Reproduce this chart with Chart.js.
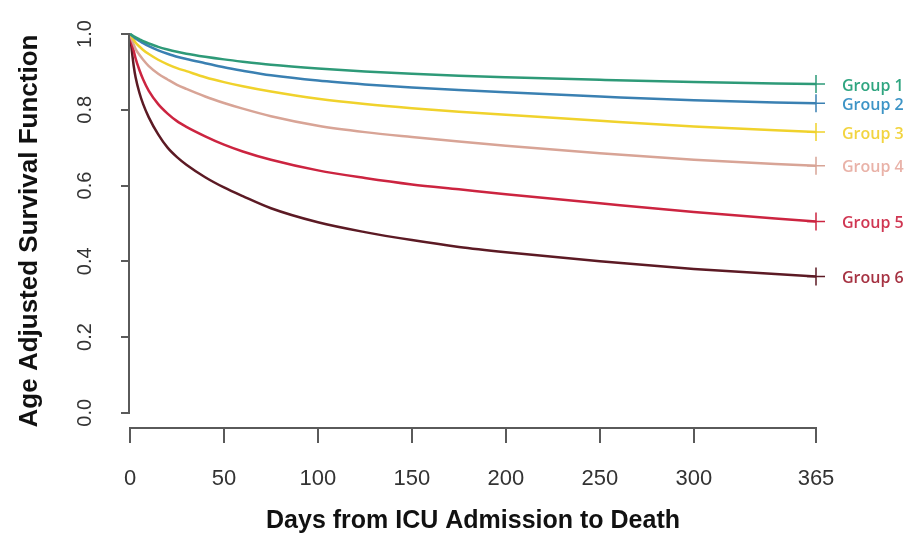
<!DOCTYPE html>
<html>
<head>
<meta charset="utf-8">
<script src="https://cdn.jsdelivr.net/npm/chart.js@4"></script>
<style>
  html, body { margin: 0; padding: 0; background: #ffffff; }
  #wrap { width: 921px; height: 536px; position: relative; }
</style>
</head>
<body>
<div id="wrap"><canvas id="survival-chart"></canvas></div>
<script>
// Age adjusted survival curves

const days = [0, 1, 2, 3, 5, 7, 10, 15, 20, 25, 30, 40, 50, 60, 75, 100, 125, 150, 175, 200, 250, 300, 365];

const group1 = [1, 0.997, 0.994, 0.991, 0.986, 0.981, 0.975, 0.966, 0.959, 0.953, 0.948, 0.940, 0.933, 0.927, 0.919, 0.909, 0.901, 0.895, 0.890, 0.886, 0.879, 0.873, 0.868];
const group2 = [1, 0.996, 0.992, 0.988, 0.982, 0.976, 0.968, 0.957, 0.948, 0.940, 0.934, 0.923, 0.912, 0.903, 0.891, 0.877, 0.867, 0.859, 0.852, 0.846, 0.835, 0.825, 0.817];
const group3 = [1, 0.992, 0.984, 0.977, 0.967, 0.958, 0.947, 0.932, 0.920, 0.910, 0.902, 0.886, 0.873, 0.862, 0.848, 0.829, 0.815, 0.804, 0.795, 0.787, 0.771, 0.756, 0.741];
const group4 = [1, 0.985, 0.972, 0.960, 0.945, 0.932, 0.915, 0.895, 0.880, 0.866, 0.855, 0.835, 0.818, 0.803, 0.783, 0.758, 0.741, 0.728, 0.716, 0.705, 0.685, 0.668, 0.652];
const group5 = [1, 0.975, 0.955, 0.935, 0.905, 0.880, 0.850, 0.815, 0.790, 0.770, 0.755, 0.730, 0.708, 0.690, 0.668, 0.640, 0.620, 0.603, 0.590, 0.577, 0.553, 0.530, 0.505];
const group6 = [1, 0.955, 0.915, 0.885, 0.845, 0.815, 0.780, 0.735, 0.700, 0.675, 0.655, 0.622, 0.595, 0.572, 0.540, 0.503, 0.477, 0.456, 0.438, 0.424, 0.400, 0.380, 0.360];

const groupNames = ['Group 1', 'Group 2', 'Group 3', 'Group 4', 'Group 5', 'Group 6'];
const groupValues = [group1, group2, group3, group4, group5, group6];

const xTicks = [0, 50, 100, 150, 200, 250, 300, 365];
const yTicks = [0, 0.2, 0.4, 0.6, 0.8, 1.0];

// Line colours and the (lighter) label colours on the right
const LINE_COLORS = ['#2e9a78', '#3a80b2', '#f0d22c', '#d8a496', '#cc2440', '#5c1a24'];
const LABEL_COLORS = ['#2fa580', '#3d94c6', '#f2d440', '#e9b2a8', '#d03652', '#a63242'];
const AXIS_COLOR = '#5a5a5a';

// R style detached y axis line and the group labels at the end of each curve
const extrasPlugin = {
  id: 'extras',
  afterDraw(chart) {
    const { ctx, chartArea, scales: { x, y } } = chart;
    ctx.save();
    ctx.strokeStyle = AXIS_COLOR;
    ctx.lineWidth = 2;
    ctx.beginPath();
    ctx.moveTo(chartArea.left - 1, y.getPixelForValue(yTicks[0]));
    ctx.lineTo(chartArea.left - 1, y.getPixelForValue(yTicks[yTicks.length - 1]));
    ctx.stroke();

    ctx.font = '600 16px "Open Sans"';
    ctx.textBaseline = 'middle';
    ctx.textAlign = 'left';
    groupValues.forEach((vals, i) => {
      const last = vals.length - 1;
      ctx.fillStyle = LABEL_COLORS[i];
      ctx.fillText(groupNames[i], x.getPixelForValue(days[last]) + 26, y.getPixelForValue(vals[last]) + 2);
    });
    ctx.restore();
  }
};

const datasets = groupValues.map((vals, i) => ({
  label: groupNames[i],
  data: days.map((d, j) => ({ x: d, y: vals[j] })),
  borderColor: LINE_COLORS[i],
  backgroundColor: LINE_COLORS[i],
  borderWidth: 2.5,
  cubicInterpolationMode: 'monotone',
  // censoring mark "+" only at the last day
  pointStyle: 'cross',
  pointRadius: ctx => (ctx.dataIndex === vals.length - 1 ? 9 : 0),
  pointHoverRadius: 0,
  pointBorderWidth: 1.5,
  clip: false
}));

const ctx = document.getElementById('survival-chart').getContext('2d');
new Chart(ctx, {
  type: 'line',
  data: { datasets: datasets },
  plugins: [extrasPlugin],
  options: {
    responsive: true,
    maintainAspectRatio: false,
    animation: false,
    layout: {
      padding: { left: 0, right: 105, top: 31, bottom: 0 }
    },
    plugins: {
      legend: { display: false },
      tooltip: { enabled: false }
    },
    scales: {
      x: {
        type: 'linear',
        min: 0,
        max: 365,
        afterBuildTicks: scale => { scale.ticks = xTicks.map(v => ({ value: v })); },
        afterFit: scale => { scale.height = 108; },
        border: { display: true, color: AXIS_COLOR, width: 2 },
        grid: { drawOnChartArea: false, drawTicks: true, tickLength: 15, color: AXIS_COLOR, lineWidth: 2 },
        ticks: {
          color: '#333333',
          padding: 23,
          maxRotation: 0,
          font: { family: '"Liberation Sans", Arial, sans-serif', size: 22 }
        },
        title: {
          display: true,
          text: 'Days from ICU Admission to Death',
          color: '#111111',
          padding: { top: 4, bottom: 0 },
          font: { family: '"Liberation Sans", Arial, sans-serif', size: 25, weight: 'bold' }
        }
      },
      y: {
        type: 'linear',
        min: -0.04,
        max: 1,
        afterBuildTicks: scale => { scale.ticks = yTicks.map(v => ({ value: v })); },
        afterFit: scale => { scale.width = 130; },
        border: { display: false },
        grid: { drawOnChartArea: false, drawTicks: true, tickLength: 9, color: AXIS_COLOR, lineWidth: 2 },
        ticks: {
          color: '#333333',
          padding: 22,
          minRotation: 90,
          maxRotation: 90,
          crossAlign: 'center',
          callback: v => v.toFixed(1),
          font: { family: '"Liberation Sans", Arial, sans-serif', size: 20 }
        },
        title: {
          display: true,
          text: 'Age Adjusted Survival Function',
          color: '#111111',
          padding: { top: 14, bottom: 0 },
          font: { family: '"Liberation Sans", Arial, sans-serif', size: 26, weight: 'bold' }
        }
      }
    }
  }
});
</script>
</body>
</html>
